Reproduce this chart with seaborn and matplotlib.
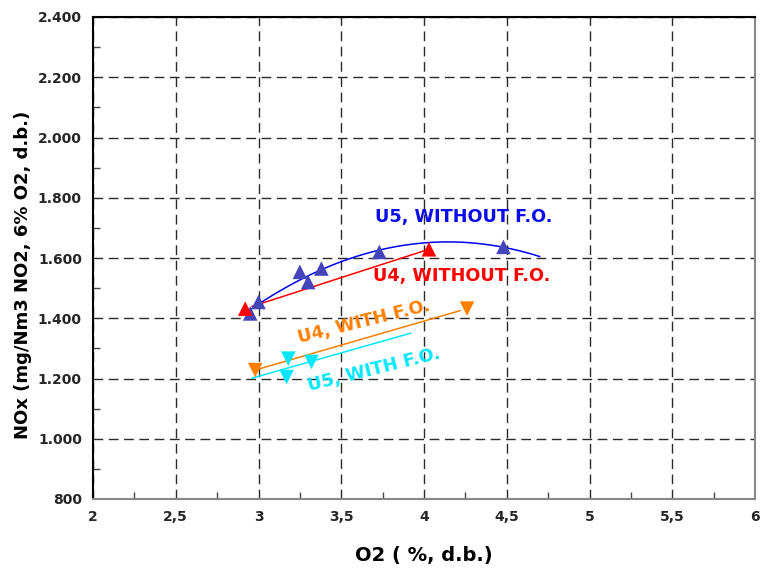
import numpy as np
import pandas as pd
import matplotlib
matplotlib.use("Agg")
import matplotlib.pyplot as plt
import seaborn as sns
from matplotlib.ticker import FixedLocator, MultipleLocator, FuncFormatter

# ---- data ----
u5_wo_x = [2.95, 3.00, 3.25, 3.30, 3.38, 3.73, 4.48]
u5_wo_y = [1416, 1454, 1554, 1520, 1565, 1620, 1637]
u4_wo_x = [2.92, 4.03]
u4_wo_y = [1432, 1629]
u4_w_x = [2.98, 4.26]
u4_w_y = [1228, 1432]
u5_w_x = [3.18, 3.32, 3.17]
u5_w_y = [1266, 1255, 1205]

x_ticks = [2, 2.5, 3, 3.5, 4, 4.5, 5, 5.5, 6]
y_ticks = [800, 1000, 1200, 1400, 1600, 1800, 2000, 2200, 2400]

sns.set_theme(style="white")
plt.rcParams['font.family'] = ['DejaVu Sans']
plt.rcParams['font.weight'] = 'bold'

fig = plt.figure(figsize=(7.61, 5.69), dpi=100)
ax = fig.add_axes([93/761, 1 - 499/569, (755 - 93)/761, (499 - 17)/569])

c_u5wo = '#4444bb'
c_u4wo = '#ff0000'
c_u4w = '#ff8000'
c_u5w = '#00e8ff'

# fitted lines (fit from the data, drawn over the reference's range)
def fitline(xs, ys, order, x0, x1, color):
    p = np.polyfit(xs, ys, order)
    xx = np.linspace(x0, x1, 100)
    ax.plot(xx, np.polyval(p, xx), color=color, lw=1.1, zorder=3)

fitline(u5_wo_x, u5_wo_y, 2, 2.91, 4.70, '#0000ee')
fitline(u4_wo_x, u4_wo_y, 1, 2.96, 4.02, c_u4wo)
fitline(u4_w_x, u4_w_y, 1, 2.99, 4.22, c_u4w)
fitline(u5_w_x, u5_w_y, 1, 2.96, 3.92, c_u5w)

df = pd.concat([
    pd.DataFrame({'x': u5_wo_x, 'y': u5_wo_y, 's': 'U5 wo'}),
    pd.DataFrame({'x': u4_wo_x, 'y': u4_wo_y, 's': 'U4 wo'}),
    pd.DataFrame({'x': u4_w_x, 'y': u4_w_y, 's': 'U4 w'}),
    pd.DataFrame({'x': u5_w_x, 'y': u5_w_y, 's': 'U5 w'}),
])
sns.scatterplot(data=df, x='x', y='y', hue='s', style='s',
                palette={'U5 wo': c_u5wo, 'U4 wo': c_u4wo, 'U4 w': c_u4w, 'U5 w': c_u5w},
                markers={'U5 wo': '^', 'U4 wo': '^', 'U4 w': 'v', 'U5 w': 'v'},
                s=110, linewidth=0, legend=False, ax=ax, zorder=4)

ax.set_xlim(2, 6)
ax.set_ylim(800, 2400)
ax.xaxis.set_major_locator(FixedLocator(x_ticks))
ax.yaxis.set_major_locator(FixedLocator(y_ticks))
ax.xaxis.set_minor_locator(MultipleLocator(0.25))
ax.yaxis.set_minor_locator(MultipleLocator(100))
ax.xaxis.set_major_formatter(FuncFormatter(lambda v, p: ('%g' % v).replace('.', ',')))
ax.yaxis.set_major_formatter(FuncFormatter(lambda v, p: '{:,.0f}'.format(v).replace(',', '.')))

ax.tick_params(which='both', direction='in', top=False, right=False, labelsize=10, pad=8)
ax.tick_params(which='major', length=6, width=1, color='#444')
ax.tick_params(which='minor', length=5, width=1, color='#444', bottom=True, left=True)
for lab in ax.get_xticklabels() + ax.get_yticklabels():
    lab.set_fontweight('bold')

ax.grid(True, which='major', color='#2a2a2a', linestyle=(0, (7, 4)), linewidth=1.0)
ax.set_axisbelow(True)

ax.spines['left'].set_color('black')
ax.spines['top'].set_color('black')
ax.spines['bottom'].set_color('#888888')
ax.spines['right'].set_color('#888888')
for sp in ax.spines.values():
    sp.set_linewidth(1.5)
    sp.set_visible(True)

ax.set_xlabel('O2 ( %, d.b.)', fontsize=14, fontweight='bold', color='black')
ax.set_ylabel('NOx (mg/Nm3 NO2, 6% O2, d.b.)', fontsize=13, fontweight='bold', color='black')
ax.xaxis.set_label_coords(0.5, -0.098)
ax.yaxis.set_label_coords(-0.092, 0.465)

ax.text(4.24, 1737, 'U5, WITHOUT F.O.', color='#0a0aee', fontsize=12.7, fontweight='bold',
        ha='center', va='center')
ax.text(4.23, 1541, 'U4, WITHOUT F.O.', color=c_u4wo, fontsize=12.7, fontweight='bold',
        ha='center', va='center')
ax.text(3.64, 1388, 'U4, WITH F.O.', color=c_u4w, fontsize=12.7, fontweight='bold',
        ha='center', va='center', rotation=14, rotation_mode='anchor')
ax.text(3.70, 1228, 'U5, WITH F.O.', color=c_u5w, fontsize=12.7, fontweight='bold',
        ha='center', va='center', rotation=14, rotation_mode='anchor')

fig.savefig('out.png', dpi=100)
